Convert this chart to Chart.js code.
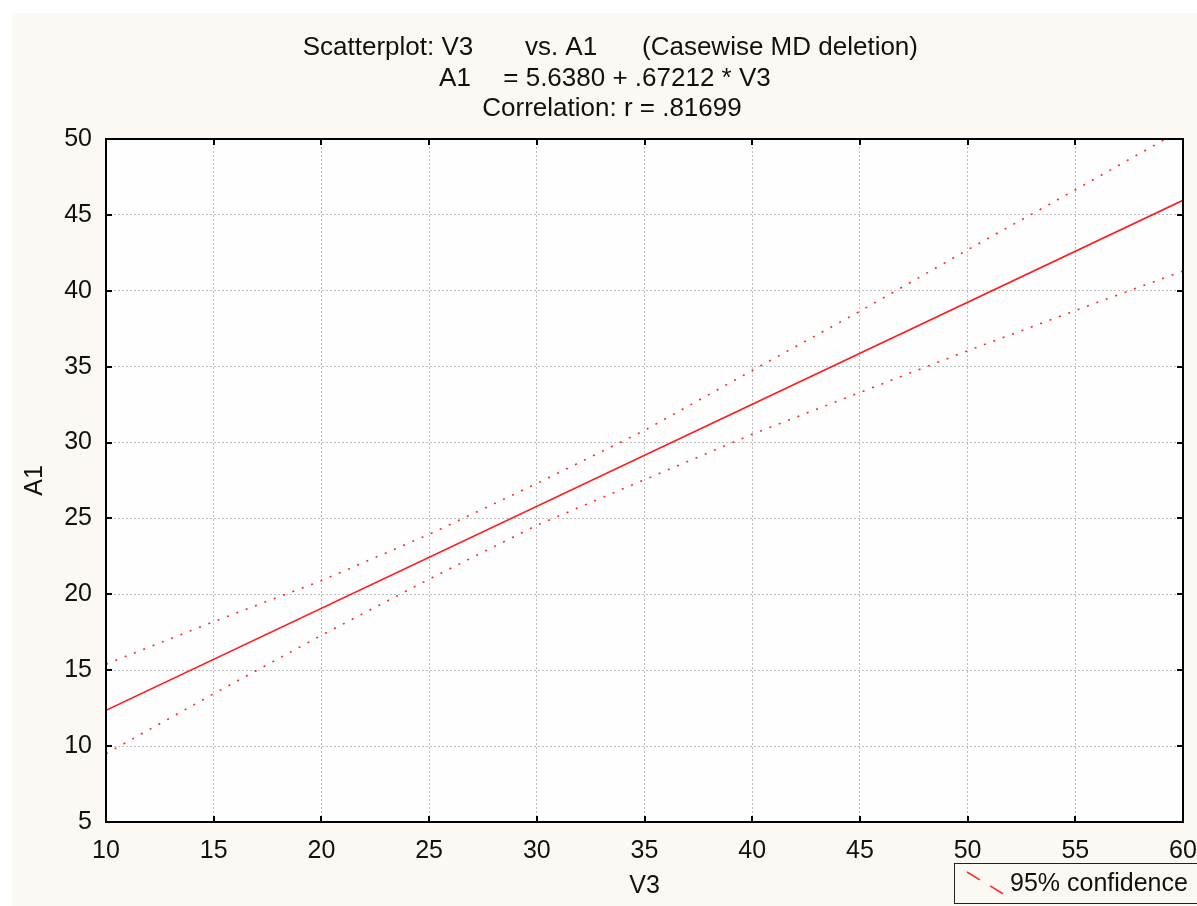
<!DOCTYPE html>
<html><head><meta charset="utf-8">
<script src="https://cdn.jsdelivr.net/npm/chart.js@4.4.1/dist/chart.umd.min.js"></script>
<style>html,body{margin:0;padding:0;background:#fff;}</style>
</head><body>
<canvas id="c" width="1197" height="906"></canvas>
<script>
// ---- data ----
const xTicks = [10, 15, 20, 25, 30, 35, 40, 45, 50, 55, 60];
const yTicks = [5, 10, 15, 20, 25, 30, 35, 40, 45, 50];
const fitV3 = [10, 60];
const fitA1 = [12.36, 45.96];
const bandV3 = [10, 15, 20, 25, 30, 35, 40, 45, 50, 55, 60];
const upper95 = [15.4, 18.2, 20.9, 23.95, 27.3, 30.8, 34.75, 38.65, 42.7, 46.65, 50.65];
const lower95 = [9.5, 13.45, 17.3, 21.0, 24.55, 27.55, 30.55, 33.3, 36.05, 38.7, 41.3];
const titleLines = [
  ["Scatterplot: V3", "vs. A1", "(Casewise MD deletion)"],
  ["A1", "= 5.6380 + .67212 * V3"],
  ["Correlation: r = .81699"]
];
const legendLabel = "95% confidence";
const xTitle = "V3";
const yTitle = "A1";

const FONT = '"Liberation Sans", Arial, sans-serif';
const pts = (xs, ys) => xs.map((x, i) => ({x: x, y: ys[i]}));

const deco = {
  id: 'deco',
  beforeDraw(chart) {
    const ctx = chart.ctx, a = chart.chartArea;
    ctx.save();
    ctx.fillStyle = '#ffffff'; ctx.fillRect(0, 0, chart.width, chart.height);
    ctx.fillStyle = '#fcf9f4'; ctx.fillRect(12, 13, chart.width - 12, chart.height - 13);
    ctx.fillStyle = '#fefefe'; ctx.fillRect(a.left, a.top, a.right - a.left, a.bottom - a.top);
    ctx.restore();
  },
  afterDraw(chart) {
    const ctx = chart.ctx, a = chart.chartArea;
    const xs = chart.scales.x, ys = chart.scales.y;
    ctx.save();
    ctx.strokeStyle = '#000'; ctx.lineWidth = 2; ctx.setLineDash([]);
    ctx.strokeRect(a.left, a.top, a.right - a.left, a.bottom - a.top);
    ctx.beginPath();
    xTicks.forEach(v => {
      const p = Math.round(xs.getPixelForValue(v));
      ctx.moveTo(p, a.bottom); ctx.lineTo(p, a.bottom - 6);
      ctx.moveTo(p, a.top); ctx.lineTo(p, a.top + 6);
    });
    yTicks.forEach(v => {
      const p = Math.round(ys.getPixelForValue(v));
      ctx.moveTo(a.left, p); ctx.lineTo(a.left + 6, p);
      ctx.moveTo(a.right, p); ctx.lineTo(a.right - 6, p);
    });
    ctx.stroke();
    ctx.fillStyle = '#111';
    ctx.font = '26px ' + FONT;
    ctx.textAlign = 'center'; ctx.textBaseline = 'alphabetic';
    const centers = [[388, 561, 780], [455, 637], [612]];
    const baselines = [55, 86, 116];
    titleLines.forEach((line, i) => {
      line.forEach((seg, j) => ctx.fillText(seg, centers[i][j], baselines[i]));
    });
    ctx.fillStyle = '#fcf9f4';
    ctx.fillRect(954.5, 863.5, 260, 40);
    ctx.strokeStyle = '#222'; ctx.lineWidth = 1;
    ctx.strokeRect(954.5, 863.5, 260, 40);
    ctx.strokeStyle = 'rgba(255,0,0,0.85)'; ctx.lineWidth = 1.5;
    ctx.setLineDash([15, 12]);
    ctx.beginPath(); ctx.moveTo(967, 872); ctx.lineTo(1005, 895); ctx.stroke();
    ctx.setLineDash([]);
    ctx.fillStyle = '#111';
    ctx.font = '25px ' + FONT;
    ctx.textAlign = 'left'; ctx.textBaseline = 'middle';
    ctx.fillText(legendLabel, 1010, 884);
    ctx.restore();
  }
};

new Chart(document.getElementById('c'), {
  type: 'scatter',
  data: {
    datasets: [
      { data: pts(fitV3, fitA1), showLine: true, borderColor: 'rgba(255,0,0,0.9)', borderWidth: 1.6, pointRadius: 0, fill: false },
      { data: pts(bandV3, upper95), showLine: true, borderColor: 'rgba(255,0,0,0.85)', borderWidth: 1.6, borderDash: [2, 8], pointRadius: 0, fill: false },
      { data: pts(bandV3, lower95), showLine: true, borderColor: 'rgba(255,0,0,0.85)', borderWidth: 1.6, borderDash: [2, 8], pointRadius: 0, fill: false }
    ]
  },
  options: {
    responsive: false,
    animation: false,
    layout: { padding: { top: 139, right: 14, left: 0, bottom: 0 } },
    plugins: { legend: { display: false }, tooltip: { enabled: false } },
    scales: {
      x: {
        type: 'linear', position: 'bottom', min: 10, max: 60,
        afterBuildTicks: s => { s.ticks = xTicks.map(v => ({value: v})); },
        afterFit: s => { s.height = 84; s.paddingLeft = 0; s.paddingRight = 0; },
        grid: { color: 'rgba(0,0,0,0.25)', lineWidth: 1, drawTicks: false },
        border: { display: false, dash: [2, 2] },
        ticks: { color: '#111', padding: 14, font: { size: 25, family: FONT }, maxRotation: 0 },
        title: { display: true, text: xTitle, color: '#111', font: { size: 25, family: FONT }, padding: { top: 0, bottom: 5 } }
      },
      y: {
        type: 'linear', position: 'left', min: 5, max: 50,
        afterBuildTicks: s => { s.ticks = yTicks.map(v => ({value: v})); },
        afterFit: s => { s.width = 106; s.paddingTop = 0; s.paddingBottom = 0; },
        grid: { color: 'rgba(0,0,0,0.25)', lineWidth: 1, drawTicks: false },
        border: { display: false, dash: [2, 2] },
        ticks: { color: '#111', padding: 14, font: { size: 25, family: FONT } },
        title: { display: true, text: yTitle, color: '#111', font: { size: 25, family: FONT }, padding: { top: 20, bottom: 0 } }
      }
    }
  },
  plugins: [deco]
});
</script>
</body></html>
